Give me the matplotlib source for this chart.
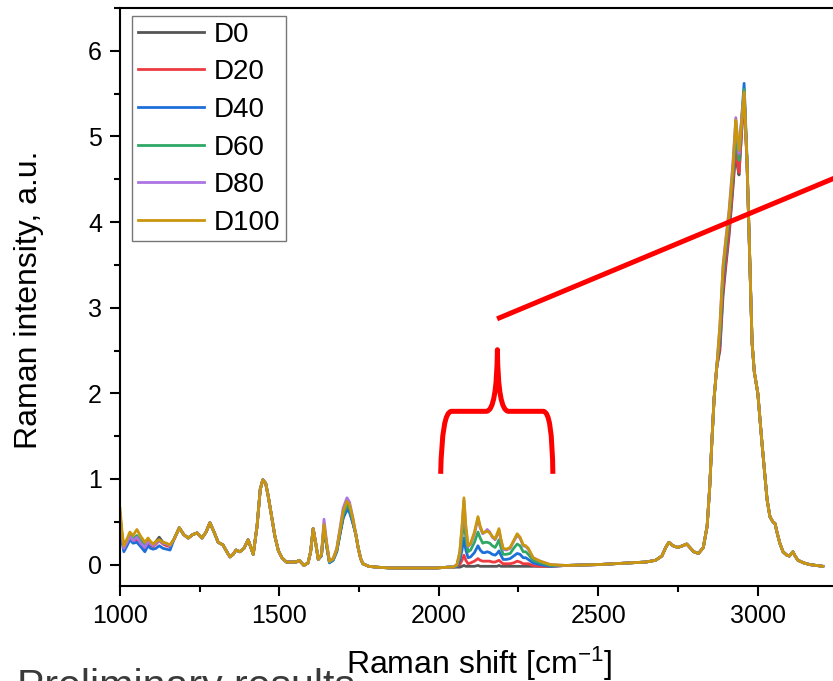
import matplotlib
matplotlib.use("Agg")
import matplotlib.pyplot as plt
from matplotlib.path import Path
from matplotlib.patches import PathPatch
from matplotlib.ticker import MultipleLocator

plt.rcParams['font.family'] = ['Liberation Sans', 'DejaVu Sans']
plt.rcParams['mathtext.default'] = 'regular'

# --- data ---
series = ['D0', 'D20', 'D40', 'D60', 'D80', 'D100']
colors = ['#555555', '#ee3b41', '#1f6fd9', '#2fa865', '#ad74e3', '#c9960c']

# 1000-1160 region, differs per sample
low_shift = [1000, 1006, 1012, 1022, 1031, 1041, 1053, 1065, 1078, 1088, 1096, 1104, 1113, 1123, 1135, 1146, 1157]
low = {
    'D0':   [0.56, 0.32, 0.18, 0.26, 0.33, 0.30, 0.31, 0.27, 0.21, 0.28, 0.24, 0.23, 0.27, 0.32, 0.26, 0.24, 0.22],
    'D20':  [0.55, 0.32, 0.18, 0.25, 0.32, 0.28, 0.29, 0.25, 0.19, 0.26, 0.22, 0.21, 0.24, 0.28, 0.24, 0.22, 0.21],
    'D40':  [0.52, 0.28, 0.15, 0.22, 0.29, 0.25, 0.26, 0.21, 0.15, 0.22, 0.19, 0.18, 0.19, 0.22, 0.19, 0.18, 0.17],
    'D60':  [0.58, 0.35, 0.20, 0.27, 0.35, 0.30, 0.34, 0.28, 0.23, 0.29, 0.25, 0.23, 0.26, 0.29, 0.25, 0.24, 0.22],
    'D80':  [0.60, 0.35, 0.19, 0.26, 0.33, 0.28, 0.32, 0.25, 0.20, 0.27, 0.24, 0.22, 0.25, 0.28, 0.25, 0.24, 0.22],
    'D100': [0.66, 0.40, 0.22, 0.30, 0.38, 0.34, 0.41, 0.33, 0.26, 0.31, 0.27, 0.24, 0.27, 0.29, 0.26, 0.25, 0.23],
}

# 1170-1622, common to all samples
mid1_shift = [1170, 1186, 1200, 1214, 1228, 1242, 1257, 1270, 1282, 1295, 1308, 1323, 1335, 1345, 1355,
              1364, 1376, 1389, 1402, 1418, 1430, 1440, 1448, 1457, 1465, 1476, 1486, 1497, 1508, 1522,
              1540, 1553, 1562, 1577, 1590, 1598, 1606, 1614, 1622]
mid1 = [0.30, 0.43, 0.35, 0.31, 0.35, 0.37, 0.31, 0.38, 0.49, 0.38, 0.26, 0.23, 0.15, 0.09, 0.12,
        0.17, 0.15, 0.19, 0.29, 0.12, 0.45, 0.88, 0.99, 0.95, 0.80, 0.55, 0.33, 0.16, 0.08, 0.03,
        0.03, 0.03, 0.05, -0.01, 0.02, 0.15, 0.42, 0.25, 0.06]

# 1632-1730 (C=C / C=O bands)
carb_shift = [1632, 1640, 1648, 1657, 1669, 1680, 1690, 1700, 1712, 1720, 1730]
carb = {
    'D0':   [0.11, 0.43, 0.23, 0.03, 0.06, 0.16, 0.36, 0.55, 0.66, 0.63, 0.50],
    'D20':  [0.11, 0.44, 0.23, 0.03, 0.06, 0.16, 0.36, 0.56, 0.68, 0.64, 0.51],
    'D40':  [0.10, 0.42, 0.22, 0.02, 0.05, 0.15, 0.35, 0.54, 0.64, 0.61, 0.49],
    'D60':  [0.11, 0.46, 0.24, 0.03, 0.06, 0.17, 0.38, 0.58, 0.70, 0.66, 0.52],
    'D80':  [0.12, 0.53, 0.27, 0.04, 0.07, 0.19, 0.42, 0.66, 0.78, 0.73, 0.56],
    'D100': [0.12, 0.47, 0.25, 0.04, 0.07, 0.18, 0.40, 0.62, 0.74, 0.70, 0.55],
}

mid2_shift = [1740, 1747, 1755, 1762, 1780, 1805, 1850, 1900, 1941, 1990, 2030]
mid2 = [0.35, 0.20, 0.07, 0.01, -0.02, -0.03, -0.04, -0.04, -0.04, -0.04, -0.03]

# C-D stretching band, grows with deuteration
band_shift = [2045, 2057, 2066, 2073, 2079, 2085, 2092, 2100, 2112, 2123, 2130, 2138, 2145, 2152, 2160, 2168,
              2177, 2183, 2189, 2195, 2202, 2212, 2224, 2235, 2246, 2255, 2265, 2273, 2281, 2296, 2318, 2350]
band = {
    'D0':   [-0.03, -0.03, -0.03, -0.02, -0.01, -0.02, -0.02, -0.02, -0.02, -0.01, -0.02, -0.02, -0.02, -0.02, -0.02, -0.02,
             -0.02, -0.02, -0.01, -0.02, -0.02, -0.02, -0.02, -0.02, -0.02, -0.02, -0.02, -0.02, -0.02, -0.02, -0.02, -0.02],
    'D20':  [-0.03, -0.02, 0.00, 0.05, 0.11, 0.05, 0.01, 0.02, 0.04, 0.07, 0.05, 0.04, 0.04, 0.04, 0.04, 0.03,
             0.03, 0.04, 0.05, 0.03, 0.01, 0.01, 0.01, 0.02, 0.04, 0.03, 0.01, 0.01, 0.01, -0.01, -0.02, -0.02],
    'D40':  [-0.03, -0.02, 0.05, 0.17, 0.31, 0.17, 0.08, 0.09, 0.14, 0.22, 0.17, 0.14, 0.14, 0.15, 0.14, 0.12,
             0.11, 0.13, 0.16, 0.11, 0.06, 0.06, 0.07, 0.10, 0.13, 0.12, 0.08, 0.08, 0.06, 0.02, 0.00, -0.02],
    'D60':  [-0.03, -0.01, 0.10, 0.31, 0.54, 0.31, 0.15, 0.17, 0.26, 0.38, 0.31, 0.25, 0.26, 0.26, 0.25, 0.22,
             0.20, 0.24, 0.29, 0.20, 0.12, 0.12, 0.13, 0.19, 0.24, 0.22, 0.15, 0.15, 0.12, 0.05, 0.02, -0.01],
    'D80':  [-0.03, 0.00, 0.14, 0.43, 0.75, 0.43, 0.21, 0.24, 0.36, 0.54, 0.43, 0.36, 0.38, 0.41, 0.38, 0.32,
             0.29, 0.34, 0.40, 0.29, 0.18, 0.17, 0.19, 0.27, 0.34, 0.31, 0.22, 0.21, 0.18, 0.08, 0.04, 0.00],
    'D100': [-0.03, 0.00, 0.15, 0.45, 0.78, 0.45, 0.22, 0.25, 0.38, 0.56, 0.45, 0.37, 0.38, 0.39, 0.37, 0.33,
             0.30, 0.36, 0.42, 0.30, 0.19, 0.18, 0.20, 0.28, 0.36, 0.32, 0.23, 0.22, 0.19, 0.08, 0.04, 0.00],
}

tail1_shift = [2400, 2500, 2600, 2650, 2680, 2700, 2712, 2722, 2735, 2750, 2765, 2778, 2790, 2800,
               2815, 2830, 2842, 2850, 2857, 2864, 2872]
tail1 = [-0.01, 0.00, 0.02, 0.03, 0.05, 0.10, 0.20, 0.26, 0.22, 0.20, 0.22, 0.24, 0.19, 0.15,
         0.13, 0.20, 0.45, 0.90, 1.45, 1.95, 2.30]

# C-H stretching maximum
ch_shift = [2882, 2892, 2901, 2911, 2923, 2932, 2937, 2942, 2950, 2958, 2967, 2973]
ch = {
    'D0':   [2.50, 3.15, 3.50, 3.85, 4.40, 4.85, 4.65, 4.55, 5.05, 5.50, 4.70, 3.92],
    'D20':  [2.55, 3.22, 3.55, 3.90, 4.45, 4.95, 4.70, 4.58, 5.05, 5.50, 4.70, 3.93],
    'D40':  [2.65, 3.35, 3.70, 4.05, 4.60, 5.10, 4.90, 4.75, 5.20, 5.62, 4.75, 3.95],
    'D60':  [2.70, 3.40, 3.72, 4.05, 4.58, 5.05, 4.85, 4.72, 5.15, 5.55, 4.72, 3.93],
    'D80':  [2.80, 3.50, 3.82, 4.15, 4.70, 5.22, 4.98, 4.80, 5.20, 5.50, 4.70, 3.92],
    'D100': [2.78, 3.48, 3.79, 4.11, 4.65, 5.19, 5.00, 4.84, 5.15, 5.52, 4.73, 3.95],
}

tail2_shift = [2983, 2990, 3001, 3014, 3030, 3039, 3048, 3055, 3061, 3070, 3080, 3092, 3100, 3111,
               3118, 3127, 3145, 3164, 3185, 3205]
tail2 = [2.59, 2.25, 2.00, 1.42, 0.76, 0.56, 0.50, 0.48, 0.38, 0.25, 0.15, 0.11, 0.10, 0.15,
         0.10, 0.05, 0.02, 0.00, -0.01, -0.02]

shift = low_shift + mid1_shift + carb_shift + mid2_shift + band_shift + tail1_shift + ch_shift + tail2_shift

# --- figure ---
fig = plt.figure(figsize=(8.33, 6.81), dpi=100)
ax = fig.add_axes([120 / 833, 1 - 586 / 681, 765 / 833, 578 / 681])

for name, col in zip(series, colors):
    y = low[name] + mid1 + carb[name] + mid2 + band[name] + tail1 + ch[name] + tail2
    ax.plot(shift, y, color=col, lw=2.0, label=name, solid_joinstyle='round')

ax.set_xlim(1000, 3400)
ax.set_ylim(-0.25, 6.5)
ax.xaxis.set_major_locator(MultipleLocator(500))
ax.xaxis.set_minor_locator(MultipleLocator(250))
ax.yaxis.set_major_locator(MultipleLocator(1))
ax.yaxis.set_minor_locator(MultipleLocator(0.5))
ax.tick_params(which='both', direction='out', width=1.5, top=False, right=False)
ax.tick_params(which='major', length=7, labelsize=18, pad=6)
ax.tick_params(which='minor', length=4)
for sp in ax.spines.values():
    sp.set_linewidth(1.5)

leg = ax.legend(loc='upper left', bbox_to_anchor=(132 / 833, 1 - 16 / 681), bbox_transform=fig.transFigure,
                fontsize=20, frameon=True, fancybox=False, borderaxespad=0, borderpad=0.2,
                handlelength=2.4, handletextpad=0.35, labelspacing=0.42)
leg.get_frame().set_edgecolor('#555555')
leg.get_frame().set_linewidth(1.0)

# red annotation: curly bracket over the C-D band and a pointer line
verts = [(2006, 1.06), (2010, 1.79), (2040, 1.79),
         (2150, 1.79),
         (2182, 1.80), (2184, 2.51),
         (2186, 1.80), (2218, 1.79),
         (2328, 1.79),
         (2356, 1.79), (2358, 1.06)]
codes = [Path.MOVETO, Path.CURVE3, Path.CURVE3,
         Path.LINETO,
         Path.CURVE3, Path.CURVE3,
         Path.CURVE3, Path.CURVE3,
         Path.LINETO,
         Path.CURVE3, Path.CURVE3]
ax.add_patch(PathPatch(Path(verts, codes), fill=False, edgecolor='#ff0000', lw=3.6,
                       joinstyle='round', capstyle='butt', zorder=5))
ax.plot([2183, 3400], [2.87, 4.76], color='#ff0000', lw=3.6, solid_capstyle='butt', zorder=5)

fig.text(29 / 833, 1 - 300 / 681, 'Raman intensity, a.u.', rotation=90, ha='center', va='center', fontsize=23)
fig.text(479 / 833, 1 - 674 / 681, 'Raman shift [cm$^{-1}$]', ha='center', va='baseline', fontsize=23)
fig.text(17 / 833, 1 - 698 / 681, 'Preliminary results', ha='left', va='baseline', fontsize=29.6, color='#3a3a3a')

fig.savefig('out.png', dpi=100)
